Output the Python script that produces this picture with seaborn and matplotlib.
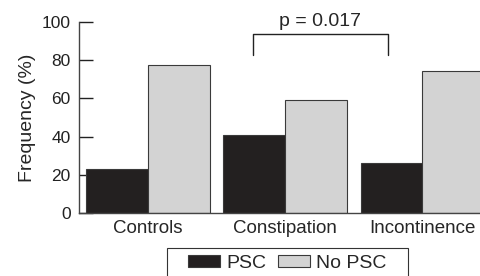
import numpy as np
import pandas as pd
import matplotlib
matplotlib.use("Agg")
import matplotlib.pyplot as plt
import seaborn as sns
from matplotlib.patches import Patch, Rectangle

# values
categories = ["Controls", "Constipation", "Incontinence"]
groups = ["PSC", "No PSC"]
psc = [23, 41, 26]
no_psc = [77.5, 59, 74.5]
p_text = "p = 0.017"
colors = ["#231f20", "#d3d3d3"]

df = pd.DataFrame({
    "category": categories * 2,
    "group": [groups[0]] * 3 + [groups[1]] * 3,
    "freq": psc + no_psc,
})

sns.set_style("ticks")
plt.rcParams["font.family"] = ["Liberation Sans", "DejaVu Sans"]

fig = plt.figure(figsize=(4.8, 2.76), dpi=100)
ax = fig.add_axes([0.165, 0.228, 0.835, 0.692])

sns.barplot(data=df, x="category", y="freq", hue="group", order=categories,
            hue_order=groups, palette=colors, width=0.9,
            edgecolor="#3a3a3a", linewidth=0.8, legend=False, ax=ax)

ax.set_xlim(-0.5, 2.42)
ax.set_ylim(0, 100)
ax.set_yticks([0, 20, 40, 60, 80, 100])
ax.set_xlabel("")
ax.set_ylabel("Frequency (%)", fontsize=14, labelpad=4)
ax.tick_params(axis="y", direction="in", length=10, width=1, labelsize=12.5,
               pad=6, colors="#222222")
ax.tick_params(axis="x", length=0, labelsize=13.5, pad=5)
for s in ["top", "right"]:
    ax.spines[s].set_visible(False)
for s in ["left", "bottom"]:
    ax.spines[s].set_color("#444444")
    ax.spines[s].set_linewidth(1)

# significance bracket between PSC bars of constipation and incontinence
x1 = 1 - 0.235
x2 = 2 - 0.25
ax.plot([x1, x1, x2, x2], [83, 93.7, 93.7, 83], color="#222222", lw=1,
        clip_on=False)
ax.text((x1 + x2) / 2, 96, p_text, ha="center", va="bottom", fontsize=14,
        clip_on=False)

# legend below the axes, box drawn separately so it runs off the bottom edge
handles = [Patch(facecolor=c, edgecolor="#3a3a3a", lw=0.8) for c in colors]
fig.legend(handles, groups, loc="upper left", ncol=2,
           bbox_to_anchor=(188 / 480, 1 - 255 / 276), fontsize=14,
           frameon=False, handlelength=1.65, handleheight=0.6,
           columnspacing=0.6, handletextpad=0.3, borderpad=0,
           borderaxespad=0)
fig.add_artist(Rectangle((167 / 480, -0.05), (408 - 167) / 480,
                         1 - 248 / 276 + 0.05, transform=fig.transFigure,
                         fill=False, edgecolor="#333333", lw=0.8))

fig.savefig("out.png", dpi=100)
